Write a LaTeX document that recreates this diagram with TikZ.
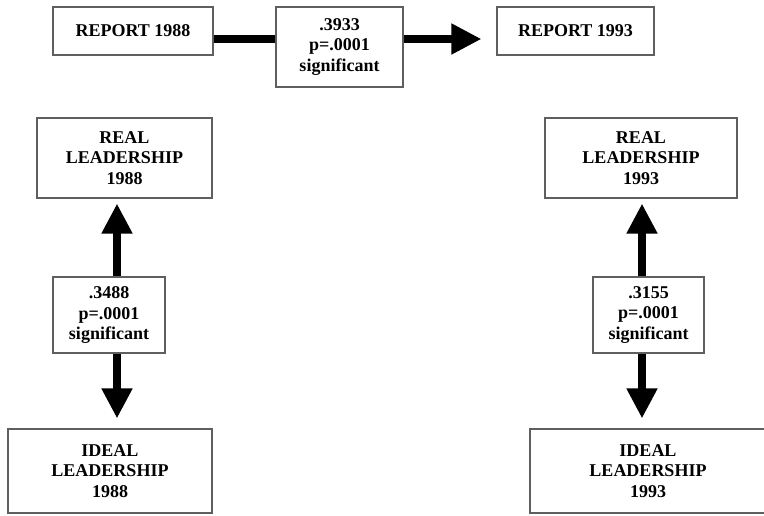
\documentclass[tikz,border=0pt]{standalone}
\usepackage{fontspec}
\setmainfont{Liberation Serif}
\usetikzlibrary{arrows.meta, backgrounds}
\usepackage{xcolor}
\definecolor{edgeGray}{RGB}{95,95,95}

\begin{document}
\begin{tikzpicture}[
    x=1pt, y=-1pt,
    box/.style={rectangle, draw=edgeGray, line width=1.1pt, fill=white, inner sep=0pt, align=center, font=\bfseries\fontsize{18}{20.5}\selectfont},
    fat/.style={line width=8pt, -{Triangle[width=29pt, length=30pt]}}
]
\useasboundingbox (0,0) rectangle (764,515);

% top row
\node[box, minimum width=160pt, minimum height=48pt] (rep88) at (133,31) {REPORT 1988};
\node[box, minimum width=127pt, minimum height=80pt] (c0) at (339.5,47) {.3933\\p=.0001\\significant};
\node[box, minimum width=157pt, minimum height=48pt] (rep93) at (575.5,31) {REPORT 1993};

% 1988 column
\node[box, minimum width=175pt, minimum height=80pt] (real88) at (124.5,158) {REAL\\LEADERSHIP\\1988};
\node[box, minimum width=112pt, minimum height=76pt] (c88) at (109,315) {.3488\\p=.0001\\significant};
\node[box, minimum width=204pt, minimum height=84pt] (ideal88) at (110,471) {IDEAL\\LEADERSHIP\\1988};

% 1993 column
\node[box, minimum width=192pt, minimum height=80pt] (real93) at (641,158) {REAL\\LEADERSHIP\\1993};
\node[box, minimum width=111pt, minimum height=76pt] (c93) at (648.5,315) {.3155\\p=.0001\\significant};
\node[box, minimum width=236pt, minimum height=84pt] (ideal93) at (648,471) {IDEAL\\LEADERSHIP\\1993};

\coordinate (ay) at (0,39);
\coordinate (lx) at (117,0);
\coordinate (rx) at (642,0);

\begin{scope}[on background layer]
\draw[fat, shorten >=15pt] (rep88.east |- ay) -- (rep93.west |- ay);
\draw[fat, shorten >=5pt] (c88.north -| lx) -- (real88.south -| lx);
\draw[fat, shorten >=10pt] (c88.south -| lx) -- (ideal88.north -| lx);
\draw[fat, shorten >=5pt] (c93.north -| rx) -- (real93.south -| rx);
\draw[fat, shorten >=10pt] (c93.south -| rx) -- (ideal93.north -| rx);
\end{scope}
\end{tikzpicture}
\end{document}
